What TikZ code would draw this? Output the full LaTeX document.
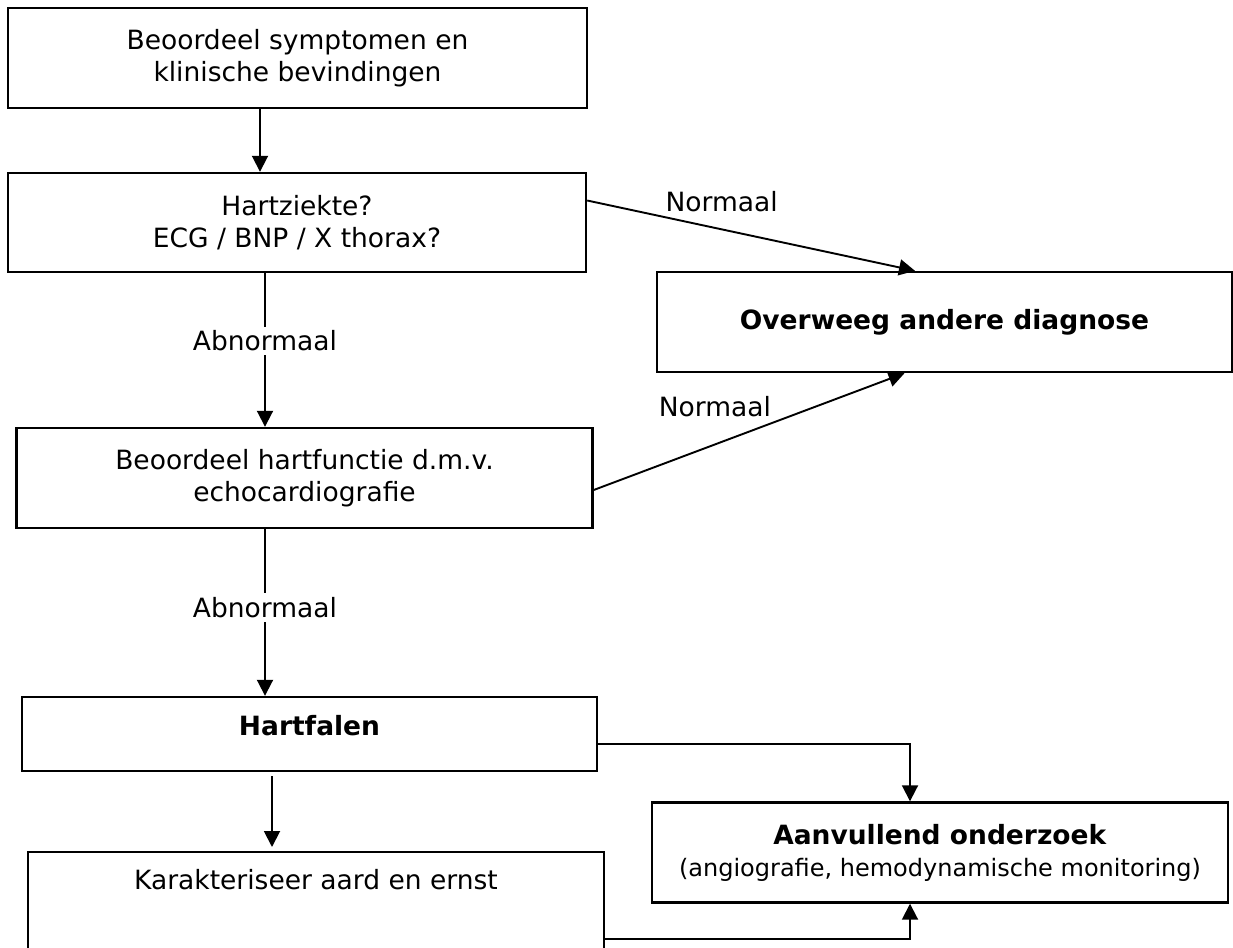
\documentclass[tikz,border=0pt]{standalone}
\usepackage{fontspec}
\setmainfont{DejaVu Sans}
\usetikzlibrary{arrows.meta}
\begin{document}
\begin{tikzpicture}[
   x=1pt,y=-1pt,
   font=\fontsize{26.5}{32}\selectfont,
   box/.style={draw,line width=2.4pt,align=center,inner sep=0pt},
   to/.style={-{Triangle[length=16pt,width=16pt]},line width=1.9pt},
   lbl/.style={fill=white,inner sep=4pt}]
\useasboundingbox (0,0) rectangle (1233,947);
\node[box,minimum width=579pt,minimum height=100pt] (sympt) at (297.5,58) {Beoordeel symptomen en\\klinische bevindingen};
\node[box,minimum width=578pt,minimum height=99pt] (hartz) at (297,222.5) {Hartziekte?\\ECG / BNP / X thorax?};
\node[box,minimum width=575pt,minimum height=100pt] (overw) at (944.5,322) {\textbf{Overweeg andere diagnose}};
\node[box,minimum width=576pt,minimum height=100pt] (hartf) at (304.5,478) {Beoordeel hartfunctie d.m.v.\\echocardiografie};
\node[box,minimum width=575pt,minimum height=74pt,text depth=18pt] (falen) at (309.5,734) {\textbf{Hartfalen}};
\node[box,minimum width=576pt,minimum height=100pt] (aanv) at (940,852.5) {\textbf{Aanvullend onderzoek}\\{\fontsize{24}{30}\selectfont (angiografie, hemodynamische monitoring)}};
\node[box,minimum width=576pt,anchor=north,inner ysep=17pt,text depth=95pt] (karak) at (316,851) {Karakteriseer aard en ernst};
\draw[to] ([xshift=-37.5pt]sympt.south) -- ([xshift=-37.5pt]sympt.south |- hartz.north);
\draw[to] ([xshift=-32pt]hartz.south) -- node[lbl,pos=0.44] {Abnormaal} ([xshift=-32pt]hartz.south |- hartf.north);
\draw[to] ([xshift=-39.5pt]hartf.south) -- node[lbl,pos=0.47] {Abnormaal} ([xshift=-39.5pt]hartf.south |- falen.north);
\draw[to] ([yshift=22pt]hartz.east) -- node[above=13pt,pos=0.41] {Normaal} ([xshift=-29.5pt]overw.north);
\draw[to] ([yshift=-12pt]hartf.east) -- node[above=23pt,pos=0.39] {Normaal} ([xshift=-40pt]overw.south);
\draw[to] ([yshift=-10pt]falen.east) -| ([xshift=-30pt]aanv.north);
\draw[to,shorten <=4pt,shorten >=4pt] ([xshift=-37.5pt]falen.south) -- ([xshift=-37.5pt]falen.south |- karak.north);
\draw[to] ([yshift=-12.5pt]karak.east) -| ([xshift=-30pt]aanv.south);
\end{tikzpicture}
\end{document}
